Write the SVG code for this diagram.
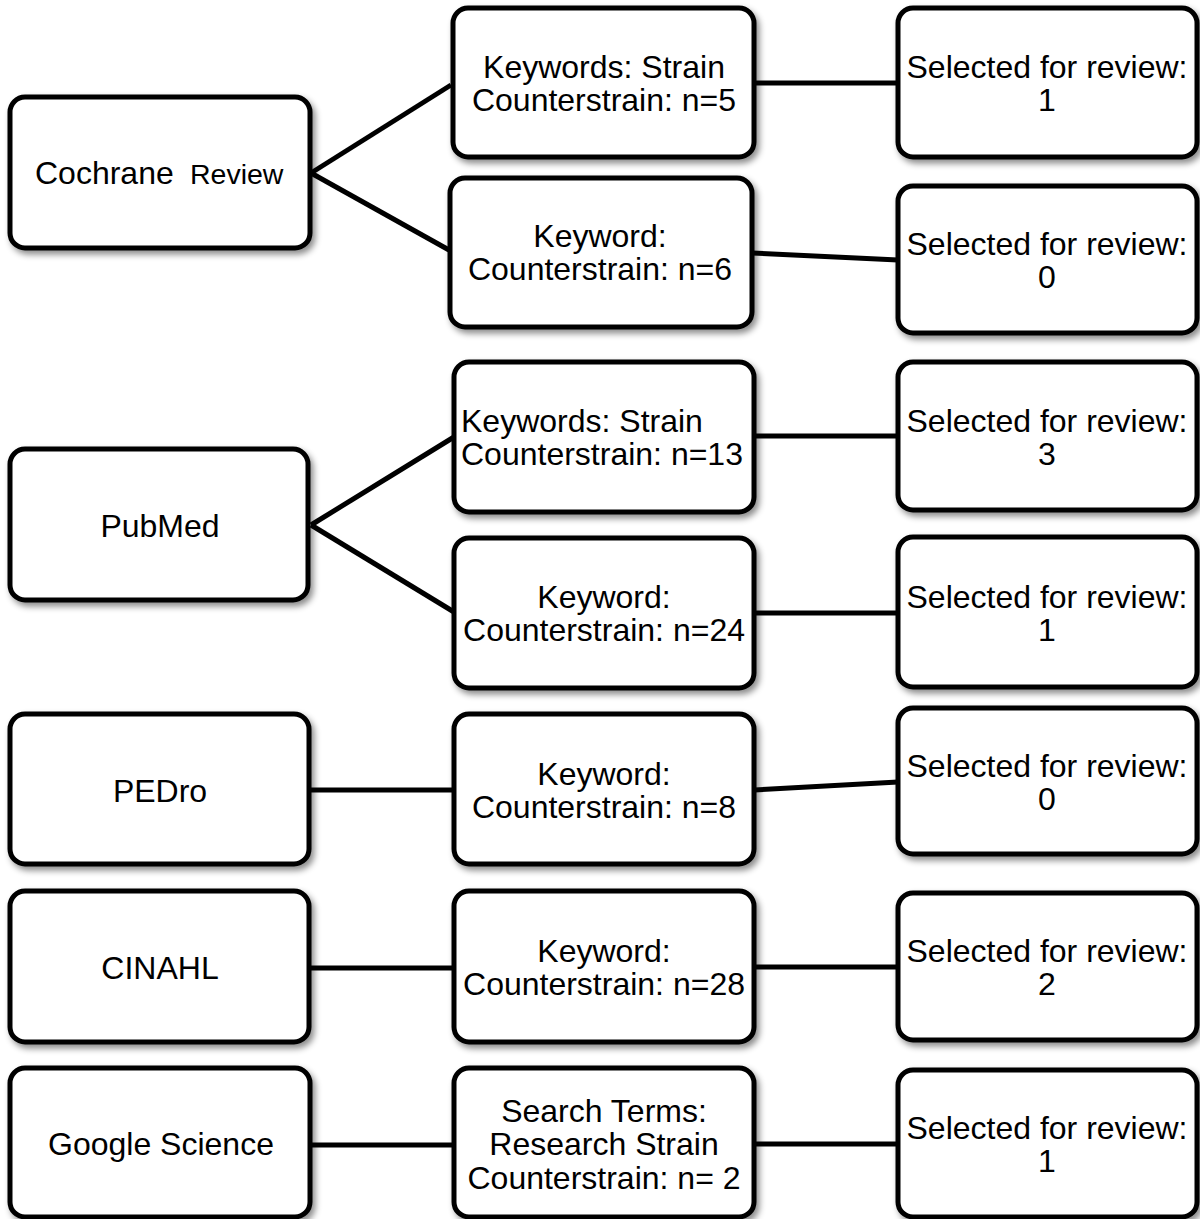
<svg xmlns="http://www.w3.org/2000/svg" width="1200" height="1219" viewBox="0 0 1200 1219">
<style>
.box{fill:#fff;stroke:#000;stroke-width:5;filter:url(#sh)}
.t{font-family:"Liberation Sans",Arial,sans-serif;font-size:32px;fill:#000;text-anchor:middle}
.c{stroke:#000;stroke-width:5;fill:none;stroke-linecap:butt}
</style>
<defs>
<filter id="sh" x="-10%" y="-10%" width="125%" height="130%">
<feDropShadow dx="3" dy="4" stdDeviation="3" flood-color="#000" flood-opacity="0.45"/>
</filter>
</defs>
<rect width="1200" height="1219" fill="#fff"/>
<g id="connectors">
<line class="c" x1="311" y1="173" x2="451" y2="85"/>
<line class="c" x1="311" y1="173" x2="449" y2="250"/>
<line class="c" x1="754" y1="83" x2="898" y2="83"/>
<line class="c" x1="752" y1="253" x2="898" y2="260"/>
<line class="c" x1="311" y1="525" x2="454" y2="437"/>
<line class="c" x1="311" y1="525" x2="454" y2="612"/>
<line class="c" x1="754" y1="436" x2="898" y2="436"/>
<line class="c" x1="754" y1="613" x2="898" y2="613"/>
<line class="c" x1="310" y1="790" x2="454" y2="790"/>
<line class="c" x1="754" y1="790" x2="898" y2="782"/>
<line class="c" x1="310" y1="968" x2="454" y2="968"/>
<line class="c" x1="754" y1="967" x2="898" y2="967"/>
<line class="c" x1="310" y1="1145" x2="454" y2="1145"/>
<line class="c" x1="754" y1="1144" x2="898" y2="1144"/>
</g>
<g id="cochrane"><rect class="box" x="10" y="97" width="300" height="151" rx="15"/>
<text class="t" style="text-anchor:start" y="184"><tspan x="35">Cochrane</tspan><tspan x="190" font-size="28.5">Review</tspan></text></g>
<g id="pubmed"><rect class="box" x="10" y="449" width="298" height="151" rx="15"/>
<text class="t" x="160" y="537">PubMed</text></g>
<g id="pedro"><rect class="box" x="10" y="714" width="299" height="150" rx="15"/>
<text class="t" x="160" y="802">PEDro</text></g>
<g id="cinahl"><rect class="box" x="10" y="891" width="299" height="151" rx="15"/>
<text class="t" x="160" y="979">CINAHL</text></g>
<g id="google"><rect class="box" x="10" y="1068" width="300" height="149" rx="15"/>
<text class="t" x="161" y="1155">Google Science</text></g>

<g id="m1"><rect class="box" x="453" y="8" width="301" height="149" rx="15"/>
<text class="t" x="604" y="78">Keywords: Strain</text><text class="t" x="604" y="111">Counterstrain: n=5</text></g>
<g id="m2"><rect class="box" x="450" y="178" width="302" height="149" rx="15"/>
<text class="t" x="600" y="247">Keyword:</text><text class="t" x="600" y="280">Counterstrain: n=6</text></g>
<g id="m3"><rect class="box" x="454" y="362" width="300" height="150" rx="15"/>
<text class="t" style="text-anchor:start" x="461" y="432">Keywords: Strain</text><text class="t" style="text-anchor:start" x="461" y="465">Counterstrain: n=13</text></g>
<g id="m4"><rect class="box" x="454" y="538" width="300" height="150" rx="15"/>
<text class="t" x="604" y="608">Keyword:</text><text class="t" x="604" y="641">Counterstrain: n=24</text></g>
<g id="m5"><rect class="box" x="454" y="714" width="300" height="150" rx="15"/>
<text class="t" x="604" y="785">Keyword:</text><text class="t" x="604" y="818">Counterstrain: n=8</text></g>
<g id="m6"><rect class="box" x="454" y="891" width="300" height="151" rx="15"/>
<text class="t" x="604" y="962">Keyword:</text><text class="t" x="604" y="995">Counterstrain: n=28</text></g>
<g id="m7"><rect class="box" x="454" y="1068" width="300" height="149" rx="15"/>
<text class="t" x="604" y="1122">Search Terms:</text><text class="t" x="604" y="1155">Research Strain</text><text class="t" x="604" y="1189">Counterstrain: n= 2</text></g>

<g id="r1"><rect class="box" x="898" y="8" width="299" height="149" rx="15"/>
<text class="t" x="1047" y="78">Selected for review:</text><text class="t" x="1047" y="111">1</text></g>
<g id="r2"><rect class="box" x="898" y="186" width="299" height="147" rx="15"/>
<text class="t" x="1047" y="255">Selected for review:</text><text class="t" x="1047" y="288">0</text></g>
<g id="r3"><rect class="box" x="898" y="362" width="299" height="148" rx="15"/>
<text class="t" x="1047" y="432">Selected for review:</text><text class="t" x="1047" y="465">3</text></g>
<g id="r4"><rect class="box" x="898" y="537" width="299" height="150" rx="15"/>
<text class="t" x="1047" y="608">Selected for review:</text><text class="t" x="1047" y="641">1</text></g>
<g id="r5"><rect class="box" x="898" y="708" width="299" height="146" rx="15"/>
<text class="t" x="1047" y="777">Selected for review:</text><text class="t" x="1047" y="810">0</text></g>
<g id="r6"><rect class="box" x="898" y="893" width="299" height="147" rx="15"/>
<text class="t" x="1047" y="962">Selected for review:</text><text class="t" x="1047" y="995">2</text></g>
<g id="r7"><rect class="box" x="898" y="1070" width="299" height="147" rx="15"/>
<text class="t" x="1047" y="1139">Selected for review:</text><text class="t" x="1047" y="1172">1</text></g>
</svg>
